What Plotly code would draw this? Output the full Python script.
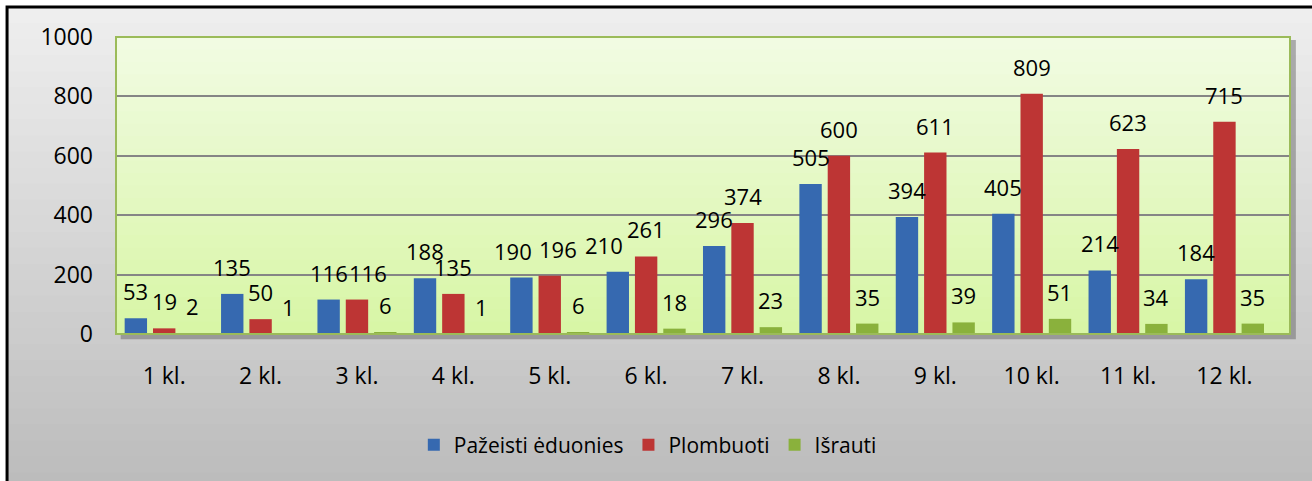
import plotly.graph_objects as go

categories = ["1 kl.", "2 kl.", "3 kl.", "4 kl.", "5 kl.", "6 kl.", "7 kl.", "8 kl.", "9 kl.", "10 kl.", "11 kl.", "12 kl."]
pazeisti = [53, 135, 116, 188, 190, 210, 296, 505, 394, 405, 214, 184]
plombuoti = [19, 50, 116, 135, 196, 261, 374, 600, 611, 809, 623, 715]
israuti = [2, 1, 6, 1, 6, 18, 23, 35, 39, 51, 34, 35]
y_ticks = [0, 200, 400, 600, 800, 1000]

series = [
    ("Pažeisti ėduonies", pazeisti, "#3669b0"),
    ("Plombuoti", plombuoti, "#bd3534"),
    ("Išrauti", israuti, "#8ab13c"),
]

FONT = "Open Sans"
SLOT_PX = 28.3          # pixel distance between neighbouring bars in a group (style)
LABEL_LIFT_PX = 27      # label centre above bar top (style)
# small horizontal nudges Excel applied to avoid label collisions (style)
LABEL_NUDGE = {(1, 2): 11, (0, 4): -8, (1, 4): 8, (0, 5): -14}

fig = go.Figure()
annotations = []
for s, (name, vals, col) in enumerate(series):
    fig.add_trace(go.Bar(
        name=name, x=categories, y=vals,
        marker=dict(color=col, line=dict(width=0)),
        hoverinfo="x+y+name",
    ))
    for i, (c, v) in enumerate(zip(categories, vals)):
        annotations.append(dict(
            x=c, y=v, xref="x", yref="y", text=str(v), showarrow=False,
            xshift=(s - 1) * SLOT_PX + LABEL_NUDGE.get((s, i), 0), yshift=LABEL_LIFT_PX,
            yanchor="middle", xanchor="center",
            font=dict(family=FONT, size=22, color="#000000"),
        ))

def hexlerp(a, b, t):
    a = [int(a[i:i+2], 16) for i in (1, 3, 5)]
    b = [int(b[i:i+2], 16) for i in (1, 3, 5)]
    return "rgb(%d,%d,%d)" % tuple(round(a[k] + (b[k] - a[k]) * t) for k in range(3))

shapes = []
# paper gradient
N = 30
y0p, y1p = -0.52, 1.101
x0p, x1p = -0.0928, 1.03
step = (y1p - y0p) / N
for i in range(N):
    t = i / (N - 1)
    ya = y1p - step * i
    yb = max(y0p, ya - step * 1.6)
    shapes.append(dict(type="rect", xref="paper", yref="paper", x0=x0p, x1=x1p, y0=yb, y1=ya,
                       fillcolor=hexlerp("#eeeeee", "#bcbcbc", t), line=dict(width=0), layer="below"))
# plot shadow
shapes.append(dict(type="rect", xref="paper", yref="paper", x0=0.004, x1=1.005, y0=-0.018, y1=0.99,
                   fillcolor="rgba(90,90,90,0.45)", line=dict(width=0), layer="below"))
# plot area gradient
M = 24
for i in range(M):
    t = i / (M - 1)
    ya = 1 - i / M
    yb = max(0, ya - 1.6 / M)
    shapes.append(dict(type="rect", xref="paper", yref="paper", x0=0, x1=1, y0=yb, y1=ya,
                       fillcolor=hexlerp("#f1fbe2", "#d8f6a6", t), line=dict(width=0), layer="below"))
# plot border
shapes.append(dict(type="rect", xref="paper", yref="paper", x0=0, x1=1, y0=0, y1=1,
                   line=dict(color="#9bbb59", width=2), layer="above"))
# outer border
shapes.append(dict(type="rect", xref="paper", yref="paper", x0=x0p, x1=x1p, y0=y0p, y1=y1p,
                   line=dict(color="#000000", width=3), fillcolor="rgba(0,0,0,0)", layer="above"))

fig.update_layout(
    width=1312, height=481,
    margin=dict(l=116, r=22, t=37, b=147, autoexpand=False),
    paper_bgcolor="#ffffff",
    plot_bgcolor="rgba(0,0,0,0)",
    barmode="group", bargap=0.118, bargroupgap=0.21,
    font=dict(family=FONT, size=21, color="#000000"),
    shapes=shapes,
    annotations=annotations,
    legend=dict(orientation="h", x=0.453, xanchor="center", y=-0.374, yanchor="middle",
                font=dict(family=FONT, size=21, color="#000000"), bgcolor="rgba(0,0,0,0)",
                itemwidth=30, traceorder="normal"),
    showlegend=True,
)
fig.update_yaxes(range=[0, 1000], tickvals=y_ticks, showgrid=True, gridcolor="#858585", gridwidth=2,
                 zeroline=False, showline=False, ticks="", ticklabelstandoff=22, automargin=False,
                 tickfont=dict(family=FONT, size=23, color="#000000"))
fig.update_xaxes(range=[-0.5, len(categories) - 0.32], showgrid=False, showline=False, ticks="",
                 ticklabelstandoff=26, automargin=False,
                 tickfont=dict(family=FONT, size=23, color="#000000"))

fig.write_html("out.html", config={"displayModeBar": False},
               post_script="document.body.style.margin='0';document.body.style.overflow='hidden';")
